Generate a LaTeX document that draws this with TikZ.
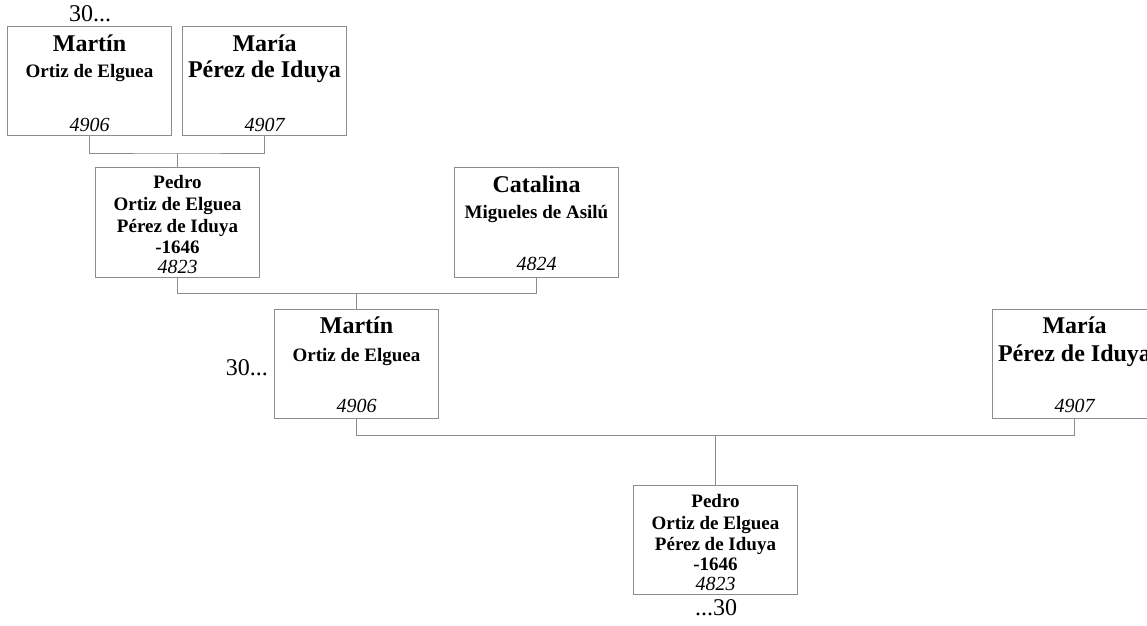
\documentclass[tikz,border=0pt]{standalone}
\usepackage{fontspec}
\setmainfont{Liberation Serif}
\usetikzlibrary{calc}
\definecolor{boxgray}{HTML}{8C8C8C}
\begin{document}
\begin{tikzpicture}[x=1pt,y=-1pt,
  box/.style={draw=boxgray, line width=1pt, minimum width=164pt, minimum height=109pt, inner sep=0pt, anchor=north west},
  link/.style={draw=boxgray, line width=1pt},
  big/.style={font=\fontsize{24}{28}\selectfont\bfseries, anchor=base, inner sep=0pt},
  mid/.style={font=\fontsize{19}{22}\selectfont\bfseries, anchor=base, inner sep=0pt},
  num/.style={font=\fontsize{20}{24}\selectfont\itshape, anchor=base, inner sep=0pt},
  gen/.style={font=\fontsize{24}{28}\selectfont, inner sep=0pt}]
\useasboundingbox (0,0) rectangle (1147,625);
\clip (0,0) rectangle (1147,625);

% boxes
\node[box] (b1) at (7,26) {};
\node[box] (b2) at (182,26) {};
\node[box, minimum height=110pt] (p1) at (95,167) {};
\node[box, minimum height=110pt] (c1) at (454,167) {};
\node[box] (m2) at (274,309) {};
\node[box] (f2) at (992,309) {};
\node[box] (p2) at (633,485) {};

% texts of b1
\node[big] (b1a) at ($(b1.north)+(0,25)$) {Martín};
\node[mid] (b1b) at ($(b1.north)+(0,51)$) {Ortiz de Elguea};
\node[num] (b1c) at ($(b1.north)+(0,105)$) {4906};
% b2
\node[big] (b2a) at ($(b2.north)+(0,25)$) {María};
\node[big] (b2b) at ($(b2.north)+(0,51)$) {Pérez de Iduya};
\node[num] (b2c) at ($(b2.north)+(0,105)$) {4907};
% p1
\node[mid] (p1a) at ($(p1.north)+(0,21)$) {Pedro};
\node[mid] (p1b) at ($(p1.north)+(0,43)$) {Ortiz de Elguea};
\node[mid] (p1c) at ($(p1.north)+(0,65)$) {Pérez de Iduya};
\node[mid] (p1d) at ($(p1.north)+(0,86)$) {-1646};
\node[num] (p1e) at ($(p1.north)+(0,106)$) {4823};
% c1
\node[big] (c1a) at ($(c1.north)+(0,25)$) {Catalina};
\node[mid] (c1b) at ($(c1.north)+(0,51)$) {Migueles de Asilú};
\node[num] (c1c) at ($(c1.north)+(0,103)$) {4824};
% m2
\node[big] (m2a) at ($(m2.north)+(0,24)$) {Martín};
\node[mid] (m2b) at ($(m2.north)+(0,52)$) {Ortiz de Elguea};
\node[num] (m2c) at ($(m2.north)+(0,103)$) {4906};
% f2
\node[big] (f2a) at ($(f2.north)+(0,24)$) {María};
\node[big] (f2b) at ($(f2.north)+(0,52)$) {Pérez de Iduya};
\node[num] (f2c) at ($(f2.north)+(0,103)$) {4907};
% p2
\node[mid] (p2a) at ($(p2.north)+(0,22)$) {Pedro};
\node[mid] (p2b) at ($(p2.north)+(0,44)$) {Ortiz de Elguea};
\node[mid] (p2c) at ($(p2.north)+(0,65)$) {Pérez de Iduya};
\node[mid] (p2d) at ($(p2.north)+(0,85)$) {-1646};
\node[num] (p2e) at ($(p2.north)+(0,105)$) {4823};

% generation marks
\node[gen, anchor=base] (g1) at (90,21) {30...};
\node[gen, anchor=base east] (g2) at (268,375) {30...};
\node[gen, anchor=base] (g3) at (716,615) {...30};

% connectors
\coordinate (j1) at ($(p1.north)+(0,-14)$);
\coordinate (j2) at ($(m2.north)+(0,-16)$);
\coordinate (j3) at ($(p2.north)+(0,-50)$);
\draw[link] (b1.south) |- (j1) -| (b2.south);
\draw[link] (j1) -- (p1.north);
\draw[link] (p1.south) |- (j2) -| (c1.south);
\draw[link] (j2) -- (m2.north);
\draw[link] (m2.south) |- (j3) -| (f2.south);
\draw[link] (j3) -- (p2.north);
\end{tikzpicture}
\end{document}
